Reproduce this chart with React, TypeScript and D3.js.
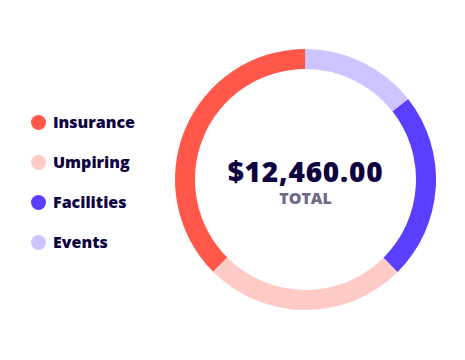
import React from "react";
import * as d3 from "d3";

const categories = ["Insurance", "Umpiring", "Facilities", "Events"];
const values = [4670, 3115, 2880, 1795];
const colors = ["#FF5749", "#FFCBC6", "#5B3FFF", "#CCC5FF"];
const totalLabel = "TOTAL";

export default function App() {
  const width = 465;
  const height = 360;
  const cx = 305.5;
  const cy = 179.5;
  const outerR = 130.5;
  const innerR = 110.5;
  const total = d3.sum(values);
  const pie = d3
    .pie<number>()
    .sort(null)
    .startAngle(0)
    .endAngle(-2 * Math.PI);
  const arcs = pie(values);
  const arc = d3.arc<d3.PieArcDatum<number>>().innerRadius(innerR).outerRadius(outerR);
  const fmt = d3.format("$,.2f");
  const legendY = d3.scalePoint<string>().domain(categories).range([122.5, 242.5]);

  return (
    <svg
      width={width}
      height={height}
      style={{ position: "absolute", left: 0, top: 0, fontFamily: "'Open Sans', sans-serif" }}
    >
      <rect width={width} height={height} fill="#fff" />
      <g transform={`translate(${cx},${cy})`}>
        {arcs.map((a, i) => (
          <path key={i} d={arc(a) || ""} fill={colors[i]} />
        ))}
        <text x={0} y={2} textAnchor="middle" fontSize={28} fontWeight={800} letterSpacing={0.8} fill="#0C0340">
          {fmt(total)}
        </text>
        <text x={0} y={24} textAnchor="middle" fontSize={16} fontWeight={800} fill="#6E6A88">
          {totalLabel}
        </text>
      </g>
      {categories.map((c, i) => (
        <g key={c} transform={`translate(0,${legendY(c)})`}>
          <circle cx={38.5} cy={0} r={7.5} fill={colors[i]} />
          <text x={53} y={5.5} fontSize={16} fontWeight={800} fill="#0C0340">
            {c}
          </text>
        </g>
      ))}
    </svg>
  );
}
